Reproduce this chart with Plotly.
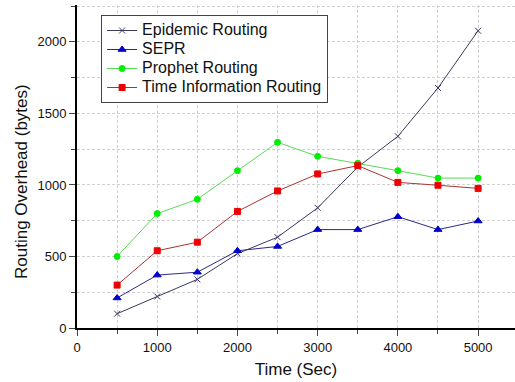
import plotly.graph_objects as go

time_sec = [500, 1000, 1500, 2000, 2500, 3000, 3500, 4000, 4500, 5000]
epidemic = [100, 220, 340, 520, 635, 840, 1125, 1340, 1678, 2078]
sepr = [210, 370, 390, 540, 570, 688, 688, 778, 688, 748]
prophet = [500, 800, 900, 1100, 1298, 1200, 1152, 1100, 1048, 1048]
time_info = [300, 540, 600, 815, 958, 1077, 1135, 1018, 998, 976]

series = [
    ("Epidemic Routing", epidemic, "#3a3a5c", "#3a3a6e", "x-thin", 6),
    ("SEPR", sepr, "#2a2a8a", "#0000cc", "triangle-up", 7),
    ("Prophet Routing", prophet, "#55dd55", "#00ee00", "circle", 6),
    ("Time Information Routing", time_info, "#aa3333", "#ee0000", "square", 6),
]

fig = go.Figure()
for name, ys, lc, mc, sym, sz in series:
    fig.add_trace(go.Scatter(
        x=time_sec, y=ys, name='<span style="font-size:16px">%s</span>' % name,
        mode="lines+markers",
        line=dict(color=lc, width=1),
        marker=dict(symbol=sym, color=mc, size=sz, line=dict(color=mc, width=1)),
    ))

gridc = "#d0d0d0"
fig.update_layout(
    width=515, height=382,
    margin=dict(l=77, r=0, t=5, b=54),
    paper_bgcolor="white", plot_bgcolor="white",
    font=dict(family="Liberation Sans, Arial", color="#111111"),
    showlegend=True,
    legend=dict(x=0.055, y=0.969, xanchor="left", yanchor="top",
                bordercolor="#444444", borderwidth=1, bgcolor="white",
                font=dict(size=12), tracegroupgap=0),
    xaxis=dict(range=[0, 5460], dtick=1000, tick0=0, ticks="outside", ticklen=6,
               tickwidth=1, showline=True, linecolor="black", linewidth=2,
               zeroline=False, tickfont=dict(size=13), automargin=False,
               showgrid=True, gridcolor=gridc, griddash="3px,2px", gridwidth=1,
               title=dict(text="Time (Sec)", font=dict(size=17), standoff=10),
               minor=dict(dtick=500, ticks="outside", ticklen=4, showgrid=True,
                          gridcolor=gridc, griddash="3px,2px")),
    yaxis=dict(range=[0, 2258], dtick=500, tick0=0, ticks="outside", ticklen=6,
               tickwidth=1, showline=True, linecolor="black", linewidth=2,
               zeroline=False, tickfont=dict(size=13), automargin=False,
               showgrid=True, gridcolor=gridc, griddash="3px,2px", gridwidth=1,
               minor=dict(dtick=250, ticks="outside", ticklen=4, showgrid=True,
                          gridcolor=gridc, griddash="3px,2px")),
    annotations=[dict(text="Routing Overhead (bytes)", textangle=-90,
                      xref="paper", yref="paper", x=-0.128, y=0.455,
                      xanchor="center", yanchor="middle", showarrow=False,
                      font=dict(size=17))],
)

fig.write_html("out.html", config={"displayModeBar": False},
               post_script="document.body.style.margin='0px';")
